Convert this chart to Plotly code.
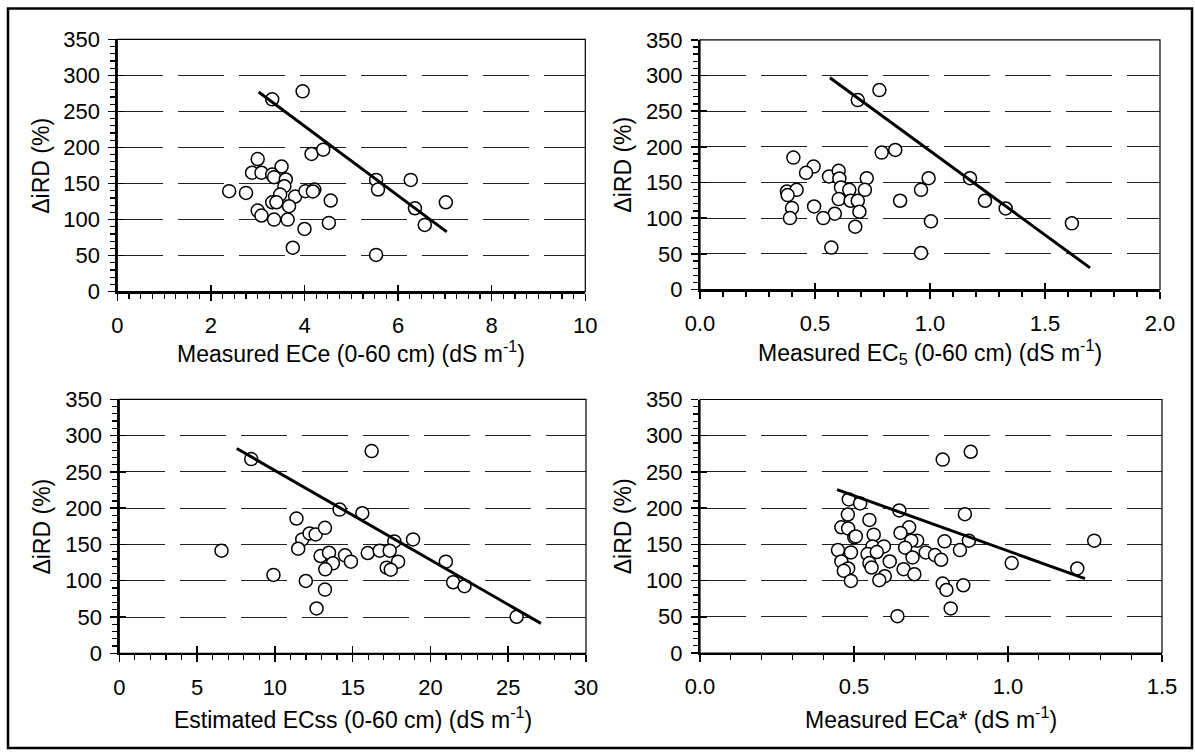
import plotly.graph_objects as go

# ---------------- data ----------------
ece_x = [3.31, 3.96, 4.15, 4.40, 3.00, 2.88, 3.08, 3.51, 3.31, 3.35, 3.60, 3.57, 2.39, 2.75,
         3.48, 3.80, 4.02, 4.21, 4.18, 4.56, 3.31, 3.40, 3.67, 3.00, 3.08, 3.35, 3.64, 4.00,
         4.52, 3.75, 5.53, 5.57, 6.27, 6.36, 6.57, 7.02, 5.53]
ece_y = [266.7, 277.8, 191, 197, 184, 165, 165, 173.6, 162.5, 158.8, 155.6, 146.3, 139.4, 137,
         134.7, 132, 139.4, 141.7, 139, 126.4, 124, 124, 118.5, 112.5, 105.6, 100, 100, 87,
         95.4, 61, 155, 141.7, 155, 115.7, 92.6, 124, 51]
ece_fit_x = [3.02, 7.04]
ece_fit_y = [277, 83]

ec5_x = [0.686, 0.780, 0.790, 0.849, 0.406, 0.494, 0.461, 0.561, 0.603, 0.606, 0.725, 0.994,
         1.174, 0.378, 0.420, 0.381, 0.613, 0.649, 0.717, 0.961, 0.603, 0.655, 0.686, 0.870,
         1.239, 1.329, 0.400, 0.496, 0.693, 0.586, 0.391, 0.536, 0.675, 1.004, 1.617, 0.571,
         0.961]
ec5_y = [265.5, 279.5, 191.9, 195.6, 184.9, 172.3, 163.5, 158.4, 166.3, 155.6, 156, 156,
         156, 137.4, 139.7, 132.3, 143, 139.7, 139.7, 139.7, 126.7, 124.4, 124.4, 124.4,
         124.4, 113.6, 114.1, 116.4, 109, 106.2, 100.1, 100.1, 88, 95.5, 92.7, 58.7, 51.2]
ec5_fit_x = [0.565, 1.696]
ec5_fit_y = [296.7, 30.3]

ecss_x = [8.48, 16.22, 14.16, 15.62, 11.39, 11.76, 12.23, 12.62, 13.22, 17.68, 18.88, 6.57,
          11.50, 12.94, 13.48, 14.51, 14.89, 13.73, 13.24, 15.97, 16.74, 17.38, 17.92, 17.19,
          17.45, 20.99, 21.46, 22.19, 9.91, 11.99, 13.22, 12.68, 25.54]
ecss_y = [267.6, 278.6, 198, 193, 185.7, 156.9, 165.1, 163.8, 172.9, 154.2, 156.9, 141.4,
          144.1, 134, 138.6, 135, 126.3, 124, 115.7, 138.2, 141.4, 141.4, 126.3, 118, 115.3,
          126.3, 97.9, 92.4, 108, 99.7, 87.8, 61.8, 50.3]
ecss_fit_x = [7.55, 27.1]
ecss_fit_y = [282.2, 41.2]

eca_x = [0.788, 0.879, 0.483, 0.520, 0.647, 0.480, 0.860, 0.550, 0.459, 0.481, 0.679, 0.564,
         0.651, 0.501, 0.506, 0.705, 0.686, 0.794, 0.873, 1.280, 0.448, 0.490, 0.560, 0.597,
         0.544, 0.574, 0.666, 0.733, 0.763, 0.783, 0.844, 0.690, 0.459, 0.481, 0.467, 0.550,
         0.557, 0.616, 0.661, 0.696, 0.600, 0.582, 0.490, 1.012, 1.225, 0.788, 0.800, 0.855,
         0.814, 0.641]
eca_y = [267, 277.8, 212, 206.5, 196.8, 191.2, 191.7, 183.8, 173.6, 172, 173.6, 163.4,
         165.7, 159.7, 161, 155.1, 155.1, 154.2, 155.1, 155.1, 142.1, 138.9, 147.2, 147.2,
         136.6, 139.4, 145.4, 138.9, 135.2, 128.7, 142.1, 131.9, 126.4, 116.7, 113.4, 124.1,
         118, 126.4, 115.7, 108.8, 106, 100.5, 99.5, 124.1, 116.7, 95.8, 87, 93.5, 61.6, 50.9]
eca_fit_x = [0.445, 1.25]
eca_fit_y = [225.5, 102.8]

y_ticks = [0, 50, 100, 150, 200, 250, 300, 350]
x_ticks_ece = [0, 2, 4, 6, 8, 10]
x_ticks_ec5 = [0.0, 0.5, 1.0, 1.5, 2.0]
x_ticks_ecss = [0, 5, 10, 15, 20, 25, 30]
x_ticks_eca = [0.0, 0.5, 1.0, 1.5]

y_title = "ΔiRD (%)"
x_titles = [
    "Measured ECe (0-60 cm) (dS m<sup>-1</sup>)",
    "Measured EC<sub>5</sub> (0-60 cm) (dS m<sup>-1</sup>)",
    "Estimated ECss (0-60 cm) (dS m<sup>-1</sup>)",
    "Measured ECa* (dS m<sup>-1</sup>)",
]

# ---------------- layout geometry ----------------
W, H = 1195, 752
FONT = "Liberation Sans, Arial, sans-serif"
FS_TICK = 22
FS_TITLE = 23


def px_x(p):
    return p / W


def px_y(p):
    return 1 - p / H


panels = [
    dict(x=ece_x, y=ece_y, fx=ece_fit_x, fy=ece_fit_y, ticks=x_ticks_ece, rng=[0, 10],
         minor=0.25, fmt="", dom_x=(117.3, 585.3), dom_y=(39.3, 291.7), title_y=352),
    dict(x=ec5_x, y=ec5_y, fx=ec5_fit_x, fy=ec5_fit_y, ticks=x_ticks_ec5, rng=[0, 2],
         minor=0.1, fmt=".1f", dom_x=(700, 1160), dom_y=(39.8, 289.5), title_y=352),
    dict(x=ecss_x, y=ecss_y, fx=ecss_fit_x, fy=ecss_fit_y, ticks=x_ticks_ecss, rng=[0, 30],
         minor=1, fmt="", dom_x=(119.3, 586), dom_y=(399.3, 653.3), title_y=718),
    dict(x=eca_x, y=eca_y, fx=eca_fit_x, fy=eca_fit_y, ticks=x_ticks_eca, rng=[0, 1.5],
         minor=0.1, fmt=".1f", dom_x=(700, 1162), dom_y=(399.5, 653), title_y=718),
]

fig = go.Figure()
layout = dict(
    width=W, height=H,
    margin=dict(l=0, r=0, t=0, b=0),
    paper_bgcolor="white", plot_bgcolor="white",
    showlegend=False,
    font=dict(family=FONT, size=FS_TICK, color="black"),
)
shapes = []
annotations = []

for i, p in enumerate(panels, start=1):
    xs = "" if i == 1 else str(i)
    xa, ya = "xaxis" + xs, "yaxis" + xs
    xr, yr = "x" + xs, "y" + xs
    fig.add_trace(go.Scatter(
        x=p["x"], y=p["y"], mode="markers", xaxis=xr, yaxis=yr,
        marker=dict(symbol="circle", size=13, color="white",
                    line=dict(color="black", width=1.5)),
        hoverinfo="skip"))
    fig.add_trace(go.Scatter(
        x=p["fx"], y=p["fy"], mode="lines", xaxis=xr, yaxis=yr,
        line=dict(color="black", width=3), hoverinfo="skip"))

    dx = [px_x(p["dom_x"][0]), px_x(p["dom_x"][1])]
    dy = [px_y(p["dom_y"][1]), px_y(p["dom_y"][0])]
    layout[xa] = dict(
        domain=dx, anchor=yr, range=p["rng"], tickvals=p["ticks"], tickformat=p["fmt"],
        showgrid=False, zeroline=False, showline=True, linecolor="black", linewidth=2,
        ticks="outside", ticklen=7, tickwidth=1.5, tickcolor="black", ticklabelstandoff=6,
        minor=dict(dtick=p["minor"], tick0=0, ticks="outside", ticklen=5, tickwidth=1.2,
                   tickcolor="black", showgrid=False),
        tickfont=dict(family=FONT, size=FS_TICK), automargin=False, fixedrange=True)
    layout[ya] = dict(
        domain=dy, anchor=xr, range=[0, 350], tickvals=y_ticks,
        showgrid=True, gridcolor="#222222", gridwidth=1, griddash="46px,15px",
        zeroline=False, showline=True, linecolor="black", linewidth=2,
        ticks="outside", ticklen=7, tickwidth=1.5, tickcolor="black", ticklabelstandoff=4,
        minor=dict(dtick=10, tick0=0, ticks="outside", ticklen=5, tickwidth=1.2,
                   tickcolor="black", showgrid=False),
        tickfont=dict(family=FONT, size=FS_TICK), automargin=False, fixedrange=True)

    # inner half of the crossing major ticks (overlay axes)
    ox, oy = "xaxis" + str(i + 4), "yaxis" + str(i + 4)
    layout[ox] = dict(overlaying=xr, anchor=yr, side="bottom", range=p["rng"],
                      tickvals=p["ticks"], ticks="inside", ticklen=7, tickwidth=1.5,
                      tickcolor="black", showticklabels=False, showgrid=False,
                      showline=False, zeroline=False, fixedrange=True)
    layout[oy] = dict(overlaying=yr, anchor=xr, side="left", range=[0, 350],
                      tickvals=y_ticks, ticks="inside", ticklen=7, tickwidth=1.5,
                      tickcolor="black", showticklabels=False, showgrid=False,
                      showline=False, zeroline=False, fixedrange=True)
    fig.add_trace(go.Scatter(x=[], y=[], xaxis="x" + str(i + 4), yaxis=yr, hoverinfo="skip"))
    fig.add_trace(go.Scatter(x=[], y=[], xaxis=xr, yaxis="y" + str(i + 4), hoverinfo="skip"))

    # thin box around the plotting area (top and right)
    shapes.append(dict(type="rect", xref=xr + " domain", yref=yr + " domain",
                       x0=0, x1=1, y0=0, y1=1, line=dict(color="black", width=1.2),
                       layer="above"))

    # axis titles
    cx = (p["dom_x"][0] + p["dom_x"][1]) / 2
    cy = (p["dom_y"][0] + p["dom_y"][1]) / 2
    annotations.append(dict(text=x_titles[i - 1], x=px_x(cx), y=px_y(p["title_y"]),
                            xref="paper", yref="paper", xanchor="center", yanchor="middle",
                            showarrow=False, font=dict(family=FONT, size=FS_TITLE)))
    annotations.append(dict(text=y_title, x=px_x(p["dom_x"][0] - 77), y=px_y(cy),
                            xref="paper", yref="paper", xanchor="center", yanchor="middle",
                            textangle=-90, showarrow=False,
                            font=dict(family=FONT, size=FS_TITLE)))

# outer frame
shapes.append(dict(type="rect", xref="paper", yref="paper",
                   x0=px_x(8), x1=px_x(1192), y0=px_y(748), y1=px_y(8.5),
                   line=dict(color="black", width=2.5)))

layout["shapes"] = shapes
layout["annotations"] = annotations
fig.update_layout(**layout)
fig.write_html("out.html", config={"displayModeBar": False, "staticPlot": True},
               post_script="document.body.style.margin='0';")
